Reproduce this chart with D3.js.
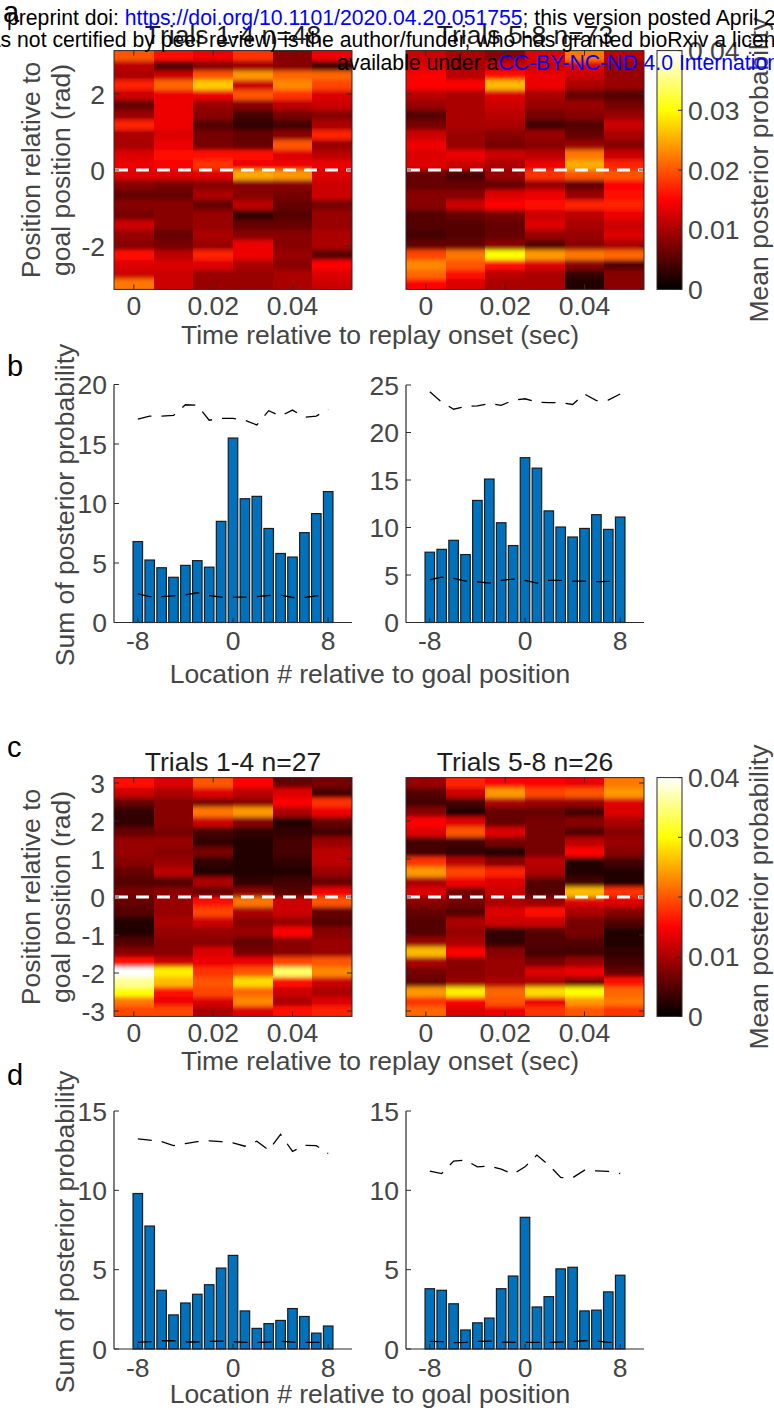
<!DOCTYPE html>
<html>
<head>
<meta charset="utf-8">
<script src="https://cdn.jsdelivr.net/npm/d3@7"></script>
<style>
  body { margin: 0; background: #fff; }
  svg { display: block; font-family: "Liberation Sans", Arial, Helvetica, sans-serif; }
</style>
</head>
<body>
<svg id="fig" width="774" height="1410"></svg>
<script>
// ---------- data ----------
const timeBins = [0, 0.01, 0.02, 0.03, 0.04, 0.05];          // replay time bins (s)
const timeTicks = [0, 0.02, 0.04];
const colorTicks = [0, 0.01, 0.02, 0.03, 0.04];
const posTicksA = [-2, 0, 2];
const posTicksC = [-3, -2, -1, 0, 1, 2, 3];
const titlesA = ["Trials 1-4 n=48", "Trials 5-8 n=73"];
const titlesC = ["Trials 1-4 n=27", "Trials 5-8 n=26"];

// Mean posterior probability: one array per time bin, 24 position bins ordered from +π down to −π
const heatA1 = [
  [0.020, 0.011, 0.010, 0.017, 0.012, 0.006, 0.009, 0.017, 0.010, 0.010, 0.013, 0.014, 0.013, 0.008, 0.006, 0.008, 0.007, 0.012, 0.009, 0.008, 0.016, 0.013, 0.012, 0.022],
  [0.016, 0.005, 0.012, 0.021, 0.014, 0.014, 0.014, 0.014, 0.013, 0.014, 0.016, 0.015, 0.013, 0.007, 0.006, 0.008, 0.008, 0.008, 0.006, 0.007, 0.011, 0.013, 0.012, 0.012],
  [0.014, 0.008, 0.020, 0.027, 0.014, 0.009, 0.008, 0.005, 0.007, 0.007, 0.016, 0.018, 0.013, 0.008, 0.010, 0.006, 0.009, 0.009, 0.010, 0.009, 0.017, 0.013, 0.009, 0.009],
  [0.018, 0.009, 0.024, 0.012, 0.020, 0.008, 0.004, 0.003, 0.006, 0.006, 0.016, 0.014, 0.025, 0.008, 0.008, 0.011, 0.003, 0.006, 0.008, 0.014, 0.014, 0.010, 0.009, 0.009],
  [0.008, 0.008, 0.021, 0.023, 0.018, 0.011, 0.007, 0.004, 0.008, 0.020, 0.013, 0.014, 0.024, 0.008, 0.007, 0.006, 0.005, 0.006, 0.008, 0.008, 0.009, 0.008, 0.010, 0.010],
  [0.014, 0.004, 0.021, 0.019, 0.013, 0.012, 0.008, 0.010, 0.017, 0.009, 0.011, 0.014, 0.013, 0.012, 0.012, 0.007, 0.009, 0.009, 0.010, 0.010, 0.005, 0.015, 0.013, 0.012]
];
const heatA2 = [
  [0.012, 0.013, 0.015, 0.015, 0.011, 0.009, 0.005, 0.007, 0.012, 0.014, 0.013, 0.013, 0.006, 0.006, 0.008, 0.008, 0.005, 0.005, 0.004, 0.006, 0.019, 0.023, 0.021, 0.015],
  [0.010, 0.010, 0.011, 0.015, 0.010, 0.010, 0.010, 0.010, 0.009, 0.009, 0.014, 0.012, 0.004, 0.006, 0.008, 0.012, 0.006, 0.005, 0.005, 0.006, 0.022, 0.020, 0.016, 0.013],
  [0.008, 0.012, 0.016, 0.026, 0.013, 0.012, 0.011, 0.010, 0.008, 0.007, 0.012, 0.010, 0.009, 0.006, 0.013, 0.015, 0.007, 0.006, 0.006, 0.008, 0.030, 0.016, 0.011, 0.010],
  [0.013, 0.012, 0.014, 0.014, 0.010, 0.009, 0.007, 0.004, 0.009, 0.008, 0.011, 0.014, 0.018, 0.009, 0.014, 0.016, 0.012, 0.013, 0.009, 0.005, 0.024, 0.013, 0.010, 0.010],
  [0.022, 0.013, 0.012, 0.010, 0.006, 0.009, 0.008, 0.005, 0.006, 0.009, 0.022, 0.025, 0.020, 0.006, 0.009, 0.017, 0.011, 0.010, 0.009, 0.008, 0.022, 0.008, 0.003, 0.002],
  [0.011, 0.009, 0.009, 0.009, 0.005, 0.007, 0.009, 0.012, 0.010, 0.008, 0.012, 0.017, 0.020, 0.015, 0.016, 0.017, 0.014, 0.012, 0.013, 0.010, 0.021, 0.005, 0.008, 0.008]
];
const heatC1 = [
  [0.016, 0.012, 0.006, 0.003, 0.003, 0.006, 0.009, 0.009, 0.008, 0.006, 0.005, 0.007, 0.006, 0.005, 0.002, 0.002, 0.005, 0.008, 0.016, 0.040, 0.036, 0.030, 0.022, 0.019],
  [0.013, 0.010, 0.008, 0.008, 0.008, 0.007, 0.009, 0.008, 0.009, 0.011, 0.005, 0.008, 0.009, 0.009, 0.010, 0.009, 0.008, 0.008, 0.012, 0.029, 0.026, 0.016, 0.014, 0.019],
  [0.020, 0.013, 0.007, 0.022, 0.012, 0.004, 0.003, 0.007, 0.003, 0.002, 0.010, 0.006, 0.016, 0.019, 0.012, 0.009, 0.008, 0.013, 0.014, 0.018, 0.020, 0.019, 0.013, 0.010],
  [0.015, 0.011, 0.008, 0.024, 0.008, 0.003, 0.002, 0.002, 0.002, 0.002, 0.003, 0.008, 0.022, 0.010, 0.008, 0.009, 0.006, 0.007, 0.014, 0.020, 0.028, 0.021, 0.023, 0.013],
  [0.006, 0.013, 0.015, 0.010, 0.002, 0.003, 0.004, 0.004, 0.003, 0.002, 0.004, 0.005, 0.012, 0.012, 0.009, 0.015, 0.008, 0.008, 0.019, 0.034, 0.016, 0.012, 0.010, 0.016],
  [0.007, 0.004, 0.018, 0.014, 0.006, 0.004, 0.009, 0.011, 0.011, 0.009, 0.006, 0.014, 0.020, 0.006, 0.005, 0.008, 0.009, 0.009, 0.020, 0.023, 0.012, 0.010, 0.013, 0.017]
];
const heatC2 = [
  [0.009, 0.005, 0.004, 0.008, 0.015, 0.013, 0.004, 0.004, 0.018, 0.024, 0.010, 0.013, 0.008, 0.006, 0.005, 0.005, 0.009, 0.026, 0.010, 0.007, 0.006, 0.024, 0.018, 0.021],
  [0.017, 0.012, 0.004, 0.002, 0.013, 0.020, 0.004, 0.003, 0.011, 0.019, 0.014, 0.007, 0.007, 0.005, 0.010, 0.009, 0.010, 0.015, 0.008, 0.008, 0.009, 0.029, 0.015, 0.013],
  [0.015, 0.024, 0.010, 0.006, 0.006, 0.013, 0.007, 0.002, 0.008, 0.017, 0.013, 0.012, 0.010, 0.013, 0.012, 0.003, 0.003, 0.008, 0.009, 0.009, 0.010, 0.021, 0.020, 0.014],
  [0.015, 0.019, 0.009, 0.006, 0.007, 0.007, 0.007, 0.007, 0.011, 0.010, 0.005, 0.005, 0.009, 0.016, 0.012, 0.005, 0.005, 0.004, 0.007, 0.013, 0.010, 0.028, 0.014, 0.018],
  [0.014, 0.020, 0.009, 0.004, 0.008, 0.005, 0.011, 0.015, 0.002, 0.002, 0.004, 0.026, 0.013, 0.010, 0.007, 0.007, 0.005, 0.004, 0.009, 0.014, 0.007, 0.030, 0.024, 0.020],
  [0.022, 0.024, 0.013, 0.013, 0.010, 0.008, 0.009, 0.008, 0.004, 0.002, 0.002, 0.018, 0.013, 0.008, 0.005, 0.002, 0.002, 0.003, 0.004, 0.006, 0.016, 0.021, 0.022, 0.018]
];

// Location # relative to goal position
const locations = [-8, -7, -6, -5, -4, -3, -2, -1, 0, 1, 2, 3, 4, 5, 6, 7, 8];
const locTicks = [-8, 0, 8];

// Sum of posterior probability per location, with shuffle bounds (upper / lower)
const sumB1 = [6.8, 5.25, 4.6, 3.8, 4.8, 5.2, 4.65, 8.5, 15.5, 10.4, 10.6, 7.9, 5.8, 5.5, 7.55, 9.15, 11.0];
const upperB1 = [17.1, 17.35, 17.35, 17.4, 18.3, 18.25, 17.0, 17.15, 17.15, 17.0, 16.6, 17.8, 17.35, 17.85, 17.25, 17.35, 17.9];
const lowerB1 = [2.4, 2.18, 2.18, 2.24, 2.32, 2.5, 2.27, 2.13, 2.13, 2.13, 2.18, 2.27, 2.3, 2.1, 2.1, 2.24, 2.27];

const sumB2 = [7.4, 7.7, 8.65, 7.15, 12.85, 15.1, 10.5, 8.1, 17.35, 16.25, 11.75, 10.05, 9.0, 9.9, 11.35, 9.8, 11.1];
const upperB2 = [24.3, 23.2, 22.45, 22.75, 22.8, 23.05, 22.85, 23.4, 23.55, 23.2, 23.15, 23.15, 22.95, 24.05, 23.35, 23.4, 24.05];
const lowerB2 = [4.5, 4.78, 4.64, 4.36, 4.29, 4.15, 4.43, 4.57, 4.43, 4.15, 4.43, 4.43, 4.36, 4.36, 4.29, 4.32, 4.32];

const sumD1 = [9.8, 7.75, 3.7, 2.15, 2.9, 3.45, 4.05, 5.1, 5.9, 2.4, 1.3, 1.6, 1.8, 2.55, 2.05, 1.0, 1.45];
const upperD1 = [13.24, 13.16, 13.07, 12.82, 12.95, 13.07, 13.12, 13.07, 12.99, 12.78, 13.1, 12.53, 13.53, 12.45, 12.84, 12.82, 12.32];
const lowerD1 = [0.42, 0.46, 0.52, 0.52, 0.44, 0.44, 0.48, 0.5, 0.46, 0.42, 0.42, 0.44, 0.48, 0.44, 0.42, 0.42, 0.42];

const sumD2 = [3.8, 3.7, 2.85, 1.2, 1.65, 1.95, 3.8, 4.6, 8.3, 2.65, 3.3, 5.05, 5.15, 2.4, 2.45, 3.6, 4.65];
const upperD2 = [11.21, 11.06, 11.84, 11.9, 11.48, 11.52, 11.33, 11.02, 11.48, 12.22, 11.59, 10.81, 10.79, 11.27, 11.23, 11.19, 11.06];
const lowerD2 = [0.48, 0.46, 0.4, 0.42, 0.48, 0.5, 0.44, 0.42, 0.42, 0.42, 0.42, 0.44, 0.46, 0.52, 0.5, 0.42, 0.42];

// ---------- style ----------
const FONT = 26.5;
const AXIS_COLOR = "#2b2b2b";
const TEXT_COLOR = "#454545";
const TITLE_COLOR = "#1e1e1e";
const BAR_COLOR = "#0072bd";

const svg = d3.select("#fig");
const defs = svg.append("defs");

// soften the steps between position bins (vertical only)
defs.append("filter").attr("id", "vsmooth")
  .attr("x", 0).attr("y", -0.1).attr("width", 1).attr("height", 1.2)
  .append("feGaussianBlur").attr("stdDeviation", "0 2.2");

// MATLAB-style "hot" colormap on the 0–0.04 range
const hot = d3.scaleLinear()
  .domain([0, 0.015, 0.03, 0.04])
  .range(["#000000", "#ff0000", "#ffff00", "#ffffff"])
  .clamp(true);

let clipCount = 0;
function heatmap(data, box, posTicks, title, titleY) {
  const g = svg.append("g");
  const x = d3.scaleLinear().domain([-0.005, 0.055]).range([box.x0, box.x1]);
  const y = d3.scaleLinear().domain([-Math.PI, Math.PI]).range([box.y1, box.y0]);
  const nPos = data[0].length;
  const binH = 2 * Math.PI / nPos;
  const halfT = 0.005;

  const clipId = "hclip" + (clipCount++);
  defs.append("clipPath").attr("id", clipId).append("rect")
    .attr("x", box.x0).attr("y", box.y0)
    .attr("width", box.x1 - box.x0).attr("height", box.y1 - box.y0);
  const cells = g.append("g").attr("clip-path", `url(#${clipId})`)
    .append("g").attr("filter", "url(#vsmooth)");

  data.forEach((col, i) => {
    cells.selectAll(null).data(col).enter().append("rect")
      .attr("x", x(timeBins[i] - halfT))
      .attr("width", x(timeBins[i] + halfT) - x(timeBins[i] - halfT) + 0.6)
      .attr("y", (d, k) => y(Math.PI - k * binH) - (k === 0 ? 10 : 0))
      .attr("height", (d, k) => y(Math.PI - (k + 1) * binH) - y(Math.PI - k * binH) + 0.6
        + (k === 0 || k === nPos - 1 ? 10 : 0))
      .attr("fill", d => hot(d))
      .attr("shape-rendering", "crispEdges");
  });

  // goal position marker
  g.append("line")
    .attr("x1", box.x0 + 1).attr("x2", box.x1 - 1)
    .attr("y1", y(0)).attr("y2", y(0))
    .attr("stroke", "#fff").attr("stroke-width", 3)
    .attr("stroke-dasharray", "13,8");

  // frame
  g.append("rect")
    .attr("x", box.x0).attr("y", box.y0)
    .attr("width", box.x1 - box.x0).attr("height", box.y1 - box.y0)
    .attr("fill", "none").attr("stroke", AXIS_COLOR).attr("stroke-width", 1);

  // ticks on all four sides, pointing inward
  const tl = 5;
  timeTicks.forEach(t => {
    g.append("line").attr("x1", x(t)).attr("x2", x(t)).attr("y1", box.y1).attr("y2", box.y1 - tl).attr("stroke", AXIS_COLOR);
    g.append("line").attr("x1", x(t)).attr("x2", x(t)).attr("y1", box.y0).attr("y2", box.y0 + tl).attr("stroke", AXIS_COLOR);
    g.append("text").attr("x", x(t)).attr("y", box.y1 + 25.6)
      .attr("text-anchor", "middle").attr("font-size", FONT).attr("fill", TEXT_COLOR)
      .text(t === 0 ? "0" : d3.format(".2f")(t));
  });
  posTicks.forEach(p => {
    g.append("line").attr("x1", box.x0).attr("x2", box.x0 + tl).attr("y1", y(p)).attr("y2", y(p)).attr("stroke", AXIS_COLOR);
    g.append("line").attr("x1", box.x1).attr("x2", box.x1 - tl).attr("y1", y(p)).attr("y2", y(p)).attr("stroke", AXIS_COLOR);
    if (box.labels) {
      g.append("text").attr("x", box.x0 - 9).attr("y", y(p)).attr("dy", "0.36em")
        .attr("text-anchor", "end").attr("font-size", FONT).attr("fill", TEXT_COLOR)
        .text(p < 0 ? "-" + Math.abs(p) : String(p));
    }
  });

  g.append("text").attr("x", (box.x0 + box.x1) / 2).attr("y", titleY)
    .attr("text-anchor", "middle").attr("font-size", FONT).attr("fill", TITLE_COLOR)
    .text(title);
  return y;
}

function colorbar(cb, gradId) {
  const g = svg.append("g");
  const c = d3.scaleLinear().domain([0, 0.04]).range([cb.y1, cb.y0]);
  const lg = defs.append("linearGradient").attr("id", gradId)
    .attr("x1", 0).attr("x2", 0).attr("y1", 1).attr("y2", 0);
  hot.domain().forEach(v => {
    lg.append("stop").attr("offset", v / 0.04).attr("stop-color", hot(v));
  });
  g.append("rect").attr("x", cb.x0).attr("y", cb.y0)
    .attr("width", cb.x1 - cb.x0).attr("height", cb.y1 - cb.y0)
    .attr("fill", `url(#${gradId})`).attr("stroke", AXIS_COLOR).attr("stroke-width", 1);
  colorTicks.forEach(v => {
    g.append("line").attr("x1", cb.x1).attr("x2", cb.x1 - 4).attr("y1", c(v)).attr("y2", c(v)).attr("stroke", AXIS_COLOR);
    g.append("text").attr("x", cb.x1 + 6).attr("y", c(v)).attr("dy", "0.36em")
      .attr("font-size", FONT).attr("fill", TEXT_COLOR)
      .text(v === 0 ? "0" : d3.format(".2f")(v));
  });
  g.append("text")
    .attr("transform", `translate(768,${(cb.y0 + cb.y1) / 2}) rotate(-90)`)
    .attr("text-anchor", "middle").attr("font-size", FONT).attr("fill", TEXT_COLOR)
    .text("Mean posterior probability");
}

function barPanel(box, yMax, yTicks, sums, upper, lower) {
  const g = svg.append("g");
  const x = d3.scaleLinear().domain([-10, 10]).range([box.x0, box.x1]);
  const y = d3.scaleLinear().domain([0, yMax]).range([box.y1, box.y0]);
  const bw = (x(1) - x(0)) * 0.8;

  g.selectAll(null).data(sums).enter().append("rect")
    .attr("x", (d, i) => x(locations[i]) - bw / 2)
    .attr("width", bw)
    .attr("y", d => y(d))
    .attr("height", d => y(0) - y(d))
    .attr("fill", BAR_COLOR)
    .attr("stroke", "#1c1c1c").attr("stroke-width", 1.2);

  const line = d3.line().x((d, i) => x(locations[i])).y(d => y(d));
  [upper, lower].forEach(s => {
    g.append("path").attr("d", line(s))
      .attr("fill", "none").attr("stroke", "#000").attr("stroke-width", 1.3)
      .attr("stroke-dasharray", "14,10");
  });

  // axes (no box)
  g.append("line").attr("x1", box.x0).attr("x2", box.x0).attr("y1", box.y1).attr("y2", box.y0).attr("stroke", AXIS_COLOR).attr("stroke-width", 1.2);
  g.append("line").attr("x1", box.x0).attr("x2", box.x1).attr("y1", box.y1).attr("y2", box.y1).attr("stroke", AXIS_COLOR).attr("stroke-width", 1.2);
  yTicks.forEach(v => {
    g.append("line").attr("x1", box.x0).attr("x2", box.x0 + 5).attr("y1", y(v)).attr("y2", y(v)).attr("stroke", AXIS_COLOR);
    g.append("text").attr("x", box.x0 - 7).attr("y", y(v)).attr("dy", "0.36em")
      .attr("text-anchor", "end").attr("font-size", FONT).attr("fill", TEXT_COLOR).text(v);
  });
  locTicks.forEach(v => {
    g.append("line").attr("x1", x(v)).attr("x2", x(v)).attr("y1", box.y1).attr("y2", box.y1 - 5).attr("stroke", AXIS_COLOR);
    g.append("text").attr("x", x(v)).attr("y", box.y1 + 27.5)
      .attr("text-anchor", "middle").attr("font-size", FONT).attr("fill", TEXT_COLOR)
      .text(v < 0 ? "-" + Math.abs(v) : String(v));
  });
}

function rotLabel(x, y, txt) {
  svg.append("text").attr("transform", `translate(${x},${y}) rotate(-90)`)
    .attr("text-anchor", "middle").attr("font-size", FONT).attr("fill", TEXT_COLOR).text(txt);
}
function hLabel(x, y, txt) {
  svg.append("text").attr("x", x).attr("y", y)
    .attr("text-anchor", "middle").attr("font-size", FONT).attr("fill", TEXT_COLOR).text(txt);
}
function panelLetter(x, y, txt) {
  svg.append("text").attr("x", x).attr("y", y).attr("font-size", 29).attr("fill", "#000").text(txt);
}

// ---------- panel a ----------
const aTop = 50.6, aBot = 289.4;
heatmap(heatA1, { x0: 114, x1: 352, y0: aTop, y1: aBot, labels: true }, posTicksA, titlesA[0], 44);
heatmap(heatA2, { x0: 406, x1: 644, y0: aTop, y1: aBot, labels: false }, posTicksA, titlesA[1], 44);
colorbar({ x0: 657, x1: 682, y0: aTop, y1: aBot }, "hotA");
rotLabel(40, (aTop + aBot) / 2, "Position relative to");
rotLabel(70, (aTop + aBot) / 2, "goal position (rad)");
hLabel(380, 344, "Time relative to replay onset (sec)");

// ---------- panel b ----------
barPanel({ x0: 114, x1: 352, y0: 384.5, y1: 622.5 }, 20, [0, 5, 10, 15, 20], sumB1, upperB1, lowerB1);
barPanel({ x0: 406, x1: 644, y0: 385, y1: 622.5 }, 25, [0, 5, 10, 15, 20, 25], sumB2, upperB2, lowerB2);
rotLabel(74, 505, "Sum of posterior probability");
hLabel(370, 683, "Location # relative to goal position");

// ---------- panel c ----------
const cTop = 777.6, cBot = 1016.4;
heatmap(heatC1, { x0: 114, x1: 352, y0: cTop, y1: cBot, labels: true }, posTicksC, titlesC[0], 771);
heatmap(heatC2, { x0: 406, x1: 644, y0: cTop, y1: cBot, labels: false }, posTicksC, titlesC[1], 771);
colorbar({ x0: 657, x1: 682, y0: cTop, y1: cBot }, "hotC");
rotLabel(40, (cTop + cBot) / 2, "Position relative to");
rotLabel(70, (cTop + cBot) / 2, "goal position (rad)");
hLabel(380, 1070, "Time relative to replay onset (sec)");

// ---------- panel d ----------
barPanel({ x0: 114, x1: 352, y0: 1111, y1: 1349 }, 15, [0, 5, 10, 15], sumD1, upperD1, lowerD1);
barPanel({ x0: 406, x1: 644, y0: 1111, y1: 1349 }, 15, [0, 5, 10, 15], sumD2, upperD2, lowerD2);
rotLabel(74, 1232, "Sum of posterior probability");
hLabel(370, 1403, "Location # relative to goal position");

// ---------- panel letters ----------
panelLetter(3, 22, "a");
panelLetter(7, 376, "b");
panelLetter(7, 757, "c");
panelLetter(7, 1085, "d");

// ---------- preprint header ----------
const hdr = svg.append("g").attr("font-size", 21.2).attr("fill", "#000");
const l1 = hdr.append("text").attr("x", 7).attr("y", 25);
l1.append("tspan").text("preprint doi: ");
l1.append("tspan").attr("fill", "#0000ff").text("https://doi.org/10.1101/2020.04.20.051755");
l1.append("tspan").text("; this version posted April 23, 2020. The copyright holder for this preprint");
hdr.append("text").attr("x", -26.5).attr("y", 47)
  .text("was not certified by peer review) is the author/funder, who has granted bioRxiv a license to display the preprint in perpetuity.");
const l3 = hdr.append("text").attr("x", 337).attr("y", 70);
l3.append("tspan").text("available under a");
l3.append("tspan").attr("fill", "#0000ff").text("CC-BY-NC-ND 4.0 International license");
</script>
</body>
</html>
